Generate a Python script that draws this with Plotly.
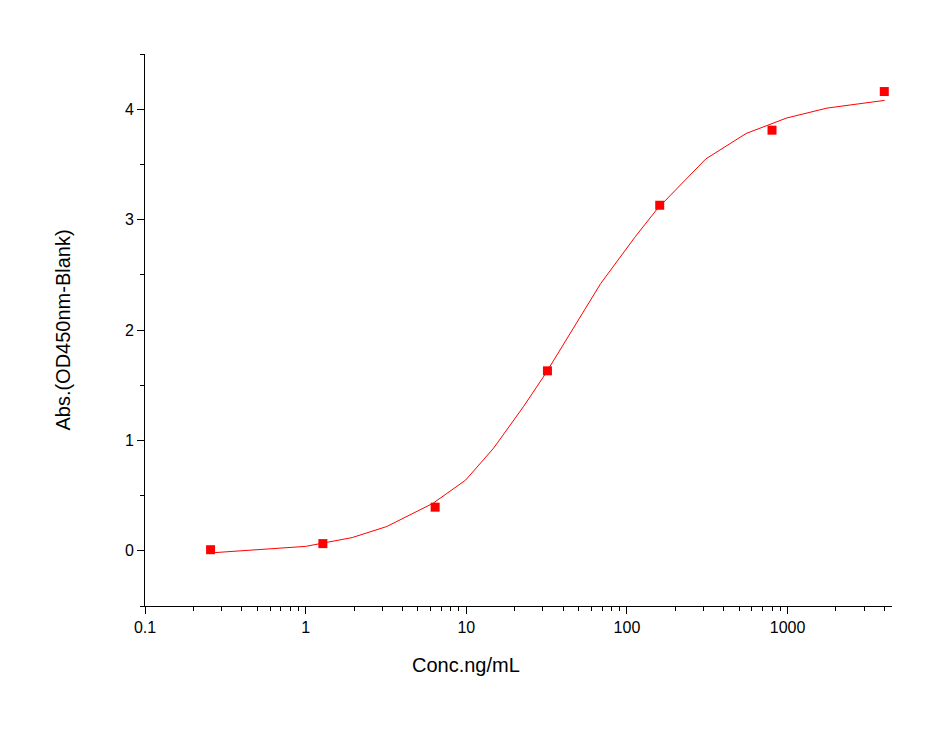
import plotly.graph_objects as go

# measured points
conc = [0.256, 1.28, 6.4, 32, 160, 800, 4000]
absorb = [0.01, 0.065, 0.395, 1.63, 3.13, 3.81, 4.16]

# fitted curve
fit_x = [0.25, 1.0, 1.95, 3.2, 6.2, 9.9, 14.8, 22.8, 31, 47, 68.6, 112, 155, 310, 552, 986, 1760, 4020]
fit_y = [-0.02, 0.04, 0.12, 0.22, 0.43, 0.64, 0.93, 1.31, 1.6, 2.03, 2.42, 2.84, 3.1, 3.55, 3.78, 3.92, 4.01, 4.08]

fig = go.Figure()
fig.add_trace(go.Scatter(x=fit_x, y=fit_y, mode='lines', line=dict(color='red', width=1)))
fig.add_trace(go.Scatter(x=conc, y=absorb, mode='markers',
                         marker=dict(color='red', symbol='square', size=9)))

axis_common = dict(showline=True, linecolor='black', linewidth=1, ticks='outside', ticklen=7,
                   tickcolor='black', showgrid=False, zeroline=False, mirror=False,
                   tickfont=dict(size=16, color='black'))
fig.update_xaxes(type='log', range=[-1, 3.65], tickvals=[0.1, 1, 10, 100, 1000],
                 ticktext=['0.1', '1', '10', '100', '1000'],
                 minor=dict(ticks='outside', ticklen=4, tickcolor='black', dtick='D1'),
                 **axis_common)
fig.update_yaxes(range=[-0.5, 4.5], tickvals=[0, 1, 2, 3, 4],
                 minor=dict(ticks='outside', ticklen=4, tickcolor='black', dtick=0.5),
                 title=dict(text='Abs.(OD450nm-Blank)', font=dict(size=20, color='black'), standoff=48),
                 **axis_common)
fig.add_annotation(text='Conc.ng/mL', xref='paper', yref='paper', x=0.43, y=-0.13,
                   showarrow=False, font=dict(size=20, color='black'))
fig.update_layout(width=939, height=742, showlegend=False, plot_bgcolor='white', paper_bgcolor='white',
                  font=dict(family='Liberation Sans, Arial, sans-serif'),
                  margin=dict(l=137, r=55, t=46, b=144))
fig.write_html('out.html')
